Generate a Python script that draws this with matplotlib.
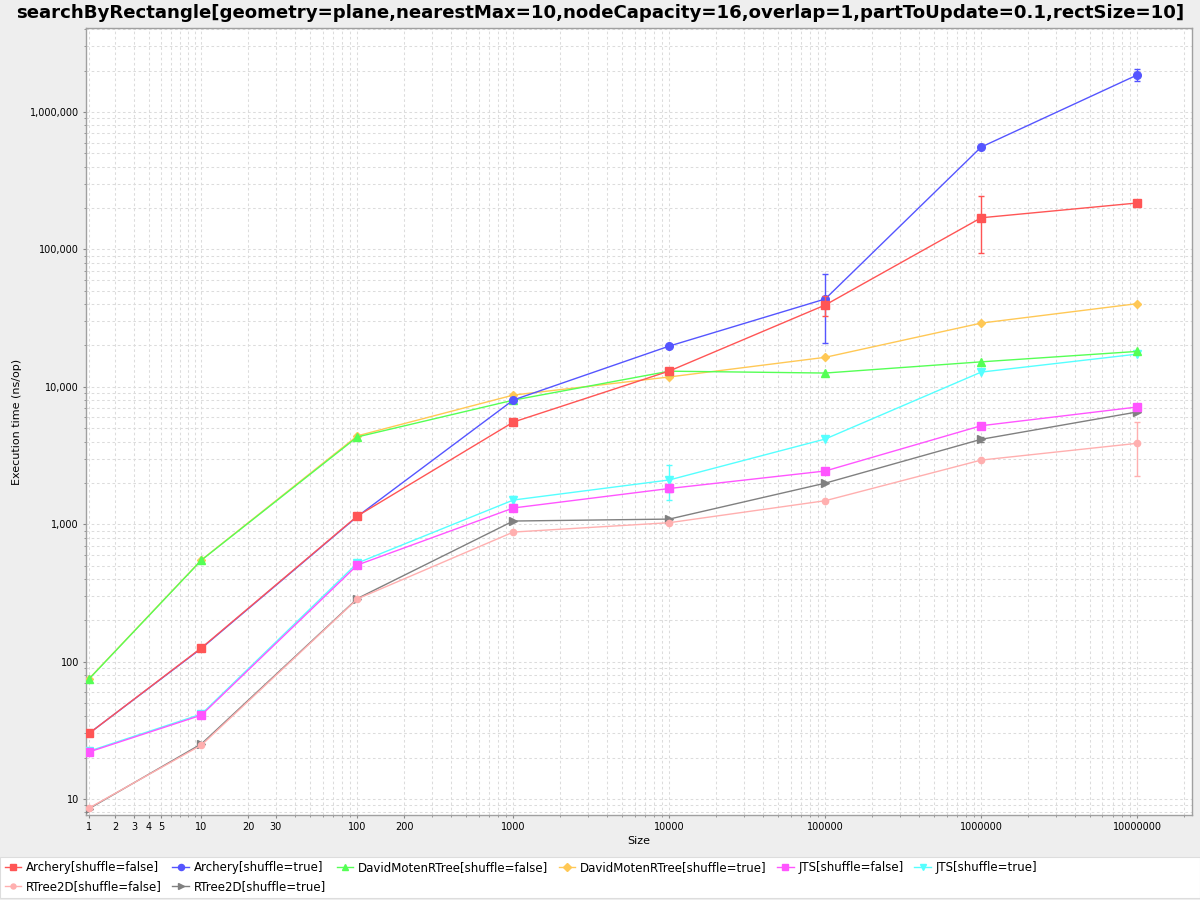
import numpy as np
import matplotlib
matplotlib.use('Agg')
import matplotlib.pyplot as plt
from matplotlib.ticker import FixedLocator, FuncFormatter, NullFormatter
from matplotlib.patches import Rectangle

plt.rcParams['font.family'] = 'DejaVu Sans'

sizes = [1, 10, 100, 1000, 10000, 100000, 1000000, 10000000]

series_names = [
    'Archery[shuffle=false]', 'Archery[shuffle=true]',
    'DavidMotenRTree[shuffle=false]', 'DavidMotenRTree[shuffle=true]',
    'JTS[shuffle=false]', 'JTS[shuffle=true]',
    'RTree2D[shuffle=false]', 'RTree2D[shuffle=true]',
]

archery_false = [30, 126, 1148, 5540, 13030, 39400, 170000, 217800]
archery_true = [30, 125, 1140, 8020, 19800, 43600, 556000, 1860000]
moten_false = [74.7, 548, 4320, 8000, 13000, 12600, 15200, 18100]
moten_true = [75, 550, 4400, 8710, 11800, 16400, 29100, 40300]
jts_false = [22.0, 40.8, 505, 1313, 1820, 2440, 5210, 7130]
jts_true = [22.3, 41.5, 522, 1500, 2100, 4170, 12800, 17300]
rtree_false = [8.6, 24.7, 286, 877, 1026, 1483, 2930, 3880]
rtree_true = [8.5, 25.2, 288, 1055, 1090, 1990, 4150, 6560]

# error bars (only where visible), same order as sizes
archery_false_err = [0, 0, 0, 0, 0, 6700, 76000, 0]
archery_true_err = [0, 0, 0, 0, 0, 22900, 0, 190000]
jts_false_err = [0, 0, 0, 0, 100, 0, 0, 0]
jts_true_err = [0, 0, 0, 100, 600, 0, 0, 0]
rtree_false_err = [0, 0, 0, 0, 0, 0, 0, 1640]
rtree_true_err = [0, 0, 0, 0, 0, 0, 200, 0]

values = [archery_false, archery_true, moten_false, moten_true,
          jts_false, jts_true, rtree_false, rtree_true]
errors = [archery_false_err, archery_true_err, None, None,
          jts_false_err, jts_true_err, rtree_false_err, rtree_true_err]
colors = ['#FF5555', '#5555FF', '#55FF55', '#FFC855',
          '#FF55FF', '#55FFFF', '#FFAFAF', '#808080']
markers = ['s', 'o', '^', 'D', 's', 'v', 'o', '>']
msizes = [6.2, 5.5, 6, 4.5, 5.5, 6, 4.5, 6]

x_major = [1, 2, 3, 4, 5, 10, 20, 30, 100, 200, 1000, 10000, 100000, 1000000, 10000000]


# JFreeChart-style log axis: values below 10 are squeezed toward 1
def fwd(x):
    x = np.asarray(x, dtype=float)
    adj = np.where(x < 10, x + (10 - x) / 10.0, x)
    return np.log10(np.maximum(adj, 1e-12))


def inv(t):
    y = np.power(10.0, np.asarray(t, dtype=float))
    return np.where(y < 10, (y - 1) / 0.9, y)


fig = plt.figure(figsize=(12, 9), dpi=100, facecolor='#EEEEEE')
ax = fig.add_axes([86 / 1200, 85 / 900, 1106 / 1200, 787 / 900])
ax.set_facecolor('white')

ax.set_xscale('function', functions=(fwd, inv))
ax.set_yscale('log')

handles = []
n = len(series_names)
for i, (name, vals, err, c, m, ms) in enumerate(zip(series_names, values, errors,
                                                      colors, markers, msizes)):
    z = 3 + (n - i) * 0.1  # first series on top, like the original
    h, = ax.plot(sizes, vals, color=c, marker=m, markersize=ms, linewidth=1.0,
                 label=name, zorder=z)
    handles.append(h)
    if err is not None:
        xs = [s for s, e in zip(sizes, err) if e > 0]
        ys = [v for v, e in zip(vals, err) if e > 0]
        es = [e for e in err if e > 0]
        ax.errorbar(xs, ys, yerr=es, fmt='none', ecolor=c, elinewidth=1.0,
                    capsize=2.5, capthick=1.0, zorder=z)

ax.set_xlim(0.909, 2.25e7)
ax.set_ylim(7.65, 4.09e6)

# grid positions
x_minor = []
for d in range(0, 8):
    for k in range(1, 10):
        x_minor.append(k * 10 ** d)
y_minor = []
for d in range(0, 7):
    for k in range(1, 10):
        y_minor.append(k * 10 ** d)

ax.xaxis.set_major_locator(FixedLocator(x_major))
ax.xaxis.set_minor_locator(FixedLocator(x_minor))
ax.xaxis.set_major_formatter(FuncFormatter(lambda v, p: '%d' % round(v)))
ax.xaxis.set_minor_formatter(NullFormatter())

ax.yaxis.set_major_locator(FixedLocator([10, 100, 1000, 10000, 100000, 1000000]))
ax.yaxis.set_minor_locator(FixedLocator(y_minor))
ax.yaxis.set_major_formatter(FuncFormatter(lambda v, p: '{:,}'.format(int(round(v)))))
ax.yaxis.set_minor_formatter(NullFormatter())

ax.grid(True, which='both', color='#DCDCDC', linestyle=(0, (2.5, 2.5)), linewidth=0.75)
ax.set_axisbelow(True)
ax.tick_params(which='major', labelsize=7, length=2, color='#888888', pad=3)
ax.tick_params(which='minor', length=1.5, color='#888888')
for sp in ax.spines.values():
    sp.set_color('#A0A0A0')
    sp.set_linewidth(1.0)

ax.set_xlabel('Size', fontsize=8, labelpad=3)
ax.set_ylabel('Execution time (ns/op)', fontsize=8, labelpad=6)

fig.text(0.5, 0.995, 'searchByRectangle[geometry=plane,nearestMax=10,nodeCapacity=16,'
         'overlap=1,partToUpdate=0.1,rectSize=10]',
         ha='center', va='top', fontsize=13.05, fontweight='bold')

# legend box
fig.patches.append(Rectangle((0, 2 / 900), 1, 41 / 900, transform=fig.transFigure,
                             facecolor='white', edgecolor='#DDDDDD', linewidth=0.8,
                             zorder=0))
order = [0, 6, 1, 7, 2, 3, 4, 5]
fig.legend([handles[i] for i in order], [series_names[i] for i in order],
           ncol=6, loc='upper left', bbox_to_anchor=(-0.002, 46 / 900),
           frameon=False, fontsize=8.5, handlelength=1.4, handletextpad=0.4,
           columnspacing=0.9, labelspacing=0.5, borderaxespad=0.2,
           markerscale=0.8)

fig.savefig('out.png', dpi=100, facecolor=fig.get_facecolor())
